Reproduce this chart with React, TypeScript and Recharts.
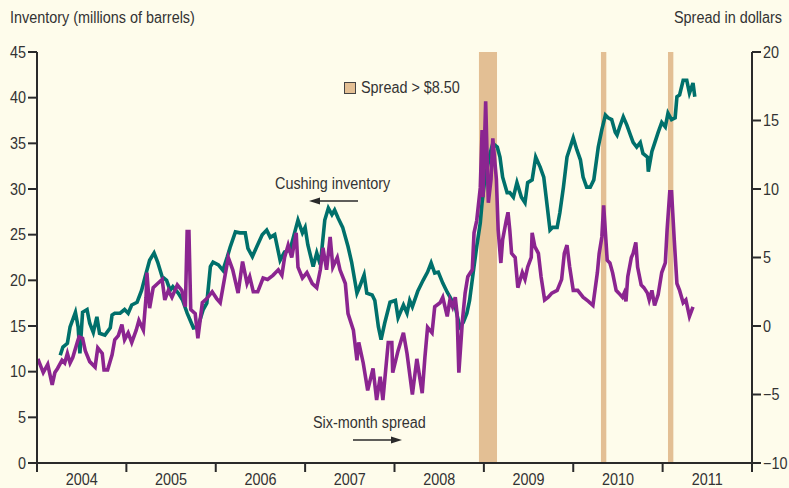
import React from 'react';
import { ComposedChart, Line, XAxis, YAxis, ReferenceArea } from 'recharts';

// ---------- data ----------
const YEAR_TICKS = [2004, 2005, 2006, 2007, 2008, 2009, 2010, 2011, 2012];
const YEAR_LABELS = ['2004', '2005', '2006', '2007', '2008', '2009', '2010', '2011'];
const INV_TICKS = [0, 5, 10, 15, 20, 25, 30, 35, 40, 45];
const SPREAD_TICKS = [-10, -5, 0, 5, 10, 15, 20];

// periods when spread > $8.50 (decimal years)
const SHADE_START = [2008.945, 2010.31, 2011.06];
const SHADE_END = [2009.147, 2010.37, 2011.12];

// Cushing inventory (millions of barrels)
const INV_DATES = [
  2004.26, 2004.29, 2004.34, 2004.37, 2004.43, 2004.46, 2004.48, 2004.51, 2004.56, 2004.59,
  2004.63, 2004.67, 2004.70, 2004.76, 2004.82, 2004.84, 2004.87, 2004.93, 2004.98, 2005.02,
  2005.06, 2005.12, 2005.17, 2005.21, 2005.26, 2005.31, 2005.35, 2005.40, 2005.45, 2005.49,
  2005.52, 2005.58, 2005.63, 2005.68, 2005.75, 2005.80, 2005.86, 2005.90, 2005.94, 2005.97,
  2006.03, 2006.08, 2006.13, 2006.16, 2006.22, 2006.27, 2006.33, 2006.36, 2006.41, 2006.46,
  2006.52, 2006.57, 2006.61, 2006.66, 2006.72, 2006.77, 2006.83, 2006.89, 2006.92, 2006.97,
  2007.00, 2007.03, 2007.09, 2007.13, 2007.17, 2007.22, 2007.26, 2007.30, 2007.33, 2007.37,
  2007.42, 2007.48, 2007.52, 2007.58, 2007.61, 2007.66, 2007.69, 2007.75, 2007.78, 2007.82,
  2007.85, 2007.89, 2007.95, 2008.01, 2008.04, 2008.10, 2008.14, 2008.17, 2008.20, 2008.26,
  2008.32, 2008.37, 2008.41, 2008.45, 2008.49, 2008.54, 2008.59, 2008.62, 2008.68, 2008.73,
  2008.77, 2008.81, 2008.84, 2008.88, 2008.92, 2008.96, 2008.98, 2009.01, 2009.07, 2009.10,
  2009.15, 2009.18, 2009.21, 2009.26, 2009.29, 2009.33, 2009.37, 2009.42, 2009.46, 2009.49,
  2009.54, 2009.58, 2009.63, 2009.67, 2009.71, 2009.74, 2009.77, 2009.82, 2009.85, 2009.89,
  2009.93, 2010.00, 2010.04, 2010.08, 2010.11, 2010.15, 2010.19, 2010.23, 2010.28, 2010.32,
  2010.36, 2010.39, 2010.43, 2010.47, 2010.49, 2010.52, 2010.56, 2010.60, 2010.64, 2010.67,
  2010.71, 2010.75, 2010.78, 2010.83, 2010.84, 2010.88, 2010.91, 2010.95, 2010.99, 2011.03,
  2011.06, 2011.10, 2011.14, 2011.16, 2011.19, 2011.23, 2011.27, 2011.30, 2011.34, 2011.36,
];
const INV_VALUES = [
  11.8, 12.7, 13.1, 14.9, 16.5, 14.9, 12.0, 16.5, 16.8, 15.3,
  14.3, 16.0, 14.2, 14.0, 14.8, 16.2, 16.4, 16.4, 16.8, 16.4,
  17.3, 17.6, 18.9, 20.4, 22.2, 23.0, 22.0, 20.4, 20.0, 18.9,
  19.3, 18.6, 17.8, 16.4, 14.8, 14.9, 16.8, 17.5, 21.5, 22.0,
  21.7, 21.1, 22.6, 23.6, 25.3, 25.2, 25.2, 23.5, 22.6, 23.7,
  25.0, 25.5, 24.7, 25.0, 22.2, 23.1, 23.3, 25.5, 26.6, 25.2,
  25.8, 23.9, 21.5, 23.0, 21.7, 26.6, 27.9, 27.2, 27.7, 26.8,
  25.8, 23.7, 22.0, 18.6, 19.3, 20.6, 18.6, 18.4, 17.8, 14.9,
  13.5, 15.3, 17.6, 17.8, 15.9, 17.3, 16.4, 17.8, 17.1, 18.8,
  20.0, 20.9, 21.9, 20.8, 20.9, 19.7, 18.7, 18.2, 17.1, 14.9,
  15.4, 16.4, 17.8, 20.8, 23.7, 26.3, 28.5, 31.0, 33.9, 35.0,
  34.6, 33.5, 31.3, 29.6, 29.6, 29.1, 30.7, 29.1, 28.5, 30.7,
  31.0, 33.5, 32.4, 31.3, 28.0, 25.5, 25.8, 25.8, 27.4, 30.2,
  33.5, 35.6, 34.3, 33.2, 31.3, 30.2, 30.2, 31.0, 34.6, 36.5,
  38.1, 37.8, 37.6, 36.2, 35.9, 36.8, 37.9, 37.0, 35.9, 35.1,
  34.6, 35.1, 33.9, 33.5, 31.9, 34.1, 35.0, 36.2, 37.3, 36.8,
  38.3, 37.6, 37.8, 40.1, 40.3, 41.9, 41.9, 40.5, 41.6, 40.1,
];

// Six-month spread (dollars)
const SPREAD_DATES = [
  2004.01, 2004.07, 2004.12, 2004.17, 2004.20, 2004.23, 2004.28, 2004.31, 2004.34, 2004.37,
  2004.40, 2004.45, 2004.47, 2004.51, 2004.54, 2004.59, 2004.65, 2004.68, 2004.73, 2004.75,
  2004.79, 2004.84, 2004.87, 2004.91, 2004.95, 2004.98, 2005.02, 2005.06, 2005.11, 2005.14,
  2005.19, 2005.22, 2005.23, 2005.26, 2005.30, 2005.35, 2005.40, 2005.43, 2005.47, 2005.51,
  2005.57, 2005.62, 2005.66, 2005.68, 2005.70, 2005.72, 2005.77, 2005.80, 2005.85, 2005.90,
  2005.96, 2006.01, 2006.05, 2006.08, 2006.14, 2006.19, 2006.25, 2006.30, 2006.35, 2006.38,
  2006.42, 2006.47, 2006.53, 2006.58, 2006.64, 2006.70, 2006.74, 2006.77, 2006.81, 2006.85,
  2006.90, 2006.92, 2006.97, 2007.02, 2007.08, 2007.13, 2007.17, 2007.20, 2007.24, 2007.28,
  2007.31, 2007.36, 2007.39, 2007.45, 2007.48, 2007.54, 2007.58, 2007.60, 2007.65, 2007.70,
  2007.76, 2007.80, 2007.84, 2007.87, 2007.93, 2007.97, 2007.98, 2008.04, 2008.10, 2008.14,
  2008.20, 2008.25, 2008.31, 2008.34, 2008.37, 2008.42, 2008.45, 2008.51, 2008.54, 2008.59,
  2008.62, 2008.65, 2008.68, 2008.70, 2008.72, 2008.76, 2008.79, 2008.82, 2008.87, 2008.89,
  2008.92, 2008.96, 2008.98, 2008.99, 2009.02, 2009.05, 2009.08, 2009.10, 2009.14, 2009.16,
  2009.19, 2009.21, 2009.25, 2009.27, 2009.29, 2009.31, 2009.35, 2009.38, 2009.43, 2009.46,
  2009.49, 2009.53, 2009.54, 2009.57, 2009.61, 2009.64, 2009.68, 2009.72, 2009.76, 2009.82,
  2009.87, 2009.90, 2009.93, 2009.96, 2010.00, 2010.05, 2010.11, 2010.17, 2010.22, 2010.27,
  2010.29, 2010.32, 2010.34, 2010.38, 2010.41, 2010.44, 2010.48, 2010.51, 2010.55, 2010.57,
  2010.59, 2010.61, 2010.65, 2010.67, 2010.70, 2010.72, 2010.76, 2010.79, 2010.83, 2010.85,
  2010.88, 2010.91, 2010.95, 2010.99, 2011.03, 2011.05, 2011.08, 2011.10, 2011.13, 2011.16,
  2011.19, 2011.23, 2011.26, 2011.30, 2011.34,
];
const SPREAD_VALUES = [
  -2.4, -3.4, -2.8, -4.3, -3.4, -3.1, -2.5, -2.7, -2.0, -2.7,
  -2.3, -1.2, -0.8, -0.9, -1.8, -2.6, -3.0, -1.6, -2.0, -3.2,
  -3.2, -2.1, -1.0, -0.7, 0.1, -1.0, -0.5, -1.2, -0.3, 0.4,
  -0.3, 2.1, 3.9, 1.3, 2.8, 3.1, 3.4, 1.9, 2.6, 2.1,
  3.0, 2.6, 1.4, 6.9, 6.9, 1.2, 0.9, -0.9, 1.7, 2.0,
  2.5, 2.0, 1.7, 2.8, 5.0, 4.1, 2.4, 4.7, 3.1, 3.6,
  2.5, 2.5, 3.5, 3.4, 3.7, 4.1, 3.7, 5.0, 5.9, 5.0,
  6.8, 4.3, 3.5, 3.9, 3.1, 2.8, 4.1, 5.7, 4.1, 6.5,
  4.3, 5.0, 4.1, 3.1, 0.9, -0.3, -2.5, -1.2, -2.7, -4.7,
  -3.1, -5.4, -3.7, -5.4, -1.2, -1.2, -3.4, -1.8, -0.5, -2.0,
  -5.0, -2.4, -4.9, -2.3, -0.1, -0.5, 1.4, 1.7, 2.1, 0.7,
  1.9, 1.4, 2.1, 0.9, -3.4, 0.4, 2.4, 3.6, 4.1, 6.8,
  7.7, 10.1, 14.3, 9.4, 16.4, 9.0, 10.7, 13.7, 10.7, 7.0,
  4.6, 6.3, 7.7, 8.3, 7.0, 5.3, 5.0, 2.8, 3.9, 3.4,
  4.3, 5.0, 6.8, 5.8, 5.3, 3.6, 1.9, 2.1, 2.4, 2.6,
  3.4, 5.3, 5.9, 4.3, 2.6, 2.6, 2.1, 1.8, 1.5, 3.9,
  5.3, 6.5, 8.8, 4.8, 4.6, 3.9, 2.6, 2.4, 2.1, 2.4,
  1.8, 3.6, 5.0, 5.3, 6.1, 4.3, 3.0, 2.8, 2.4, 1.9,
  2.6, 1.5, 2.3, 3.9, 4.6, 7.0, 9.8, 9.8, 6.3, 3.1,
  2.6, 1.7, 1.9, 0.7, 1.4,
];

// ---------- layout / style ----------
const W = 789;
const H = 488;
const M_TOP = 52;
const AXIS_W = 37;
const X_AXIS_H = 25;
const PLOT_W = W - AXIS_W * 2;
const HALF_YEAR_PX = PLOT_W / (YEAR_TICKS.length - 1) / 2;

const BG = '#FEFCEB';
const INK = '#2a2a2a';
const TEXT = '#333333';
const GREEN = '#00706B';
const PURPLE = '#8B2590';
const SHADE = '#E3BF94';
const FONT = "'Liberation Sans', Arial, sans-serif";
const FS = 16;
const SQUEEZE = 0.9;

const invData = INV_DATES.map((t, i) => ({ t, v: INV_VALUES[i] }));
const spreadData = SPREAD_DATES.map((t, i) => ({ t, s: SPREAD_VALUES[i] }));

const minus = (v: number) => String(v).replace('-', '\u2212');

const NarrowText = ({ x, y, anchor, dy, children }: any) => (
  <text
    x={x}
    y={y}
    dy={dy}
    textAnchor={anchor}
    fill={TEXT}
    fontSize={FS}
    fontFamily={FONT}
    transform={`translate(${x} 0) scale(${SQUEEZE} 1) translate(${-x} 0)`}
  >
    {children}
  </text>
);

const XTick = (props: any) => {
  const { x, y, payload } = props;
  const i = YEAR_TICKS.indexOf(payload.value);
  if (i < 0 || i >= YEAR_LABELS.length) return null;
  return (
    <NarrowText x={x + HALF_YEAR_PX} y={y} dy="0.71em" anchor="middle">
      {YEAR_LABELS[i]}
    </NarrowText>
  );
};

const YTick = (props: any) => {
  const { x, y, payload, textAnchor } = props;
  return (
    <NarrowText x={x} y={y} dy="0.355em" anchor={textAnchor}>
      {minus(payload.value)}
    </NarrowText>
  );
};

const narrowDiv = (origin: string): React.CSSProperties => ({
  position: 'absolute',
  fontSize: FS,
  lineHeight: '20px',
  whiteSpace: 'nowrap',
  transform: `scaleX(${SQUEEZE})`,
  transformOrigin: origin,
});

export default function App() {
  return (
    <div style={{ position: 'absolute', left: 0, top: 0, width: W, height: H, background: BG, fontFamily: FONT, color: TEXT }}>
      <ComposedChart
        width={W}
        height={H}
        margin={{ top: M_TOP, right: 0, bottom: 0, left: 0 }}
        style={{ fontFamily: FONT }}
      >
        <XAxis
          dataKey="t"
          type="number"
          domain={[2004, 2012]}
          ticks={YEAR_TICKS}
          allowDataOverflow
          height={X_AXIS_H}
          tickSize={9}
          tickMargin={2}
          tick={<XTick />}
          axisLine={{ stroke: INK, strokeWidth: 2 }}
          tickLine={{ stroke: INK, strokeWidth: 2 }}
        />
        <YAxis
          yAxisId="inv"
          orientation="left"
          domain={[0, 45]}
          ticks={INV_TICKS}
          width={AXIS_W}
          tickSize={9}
          tickMargin={2}
          interval={0}
          tick={<YTick />}
          axisLine={{ stroke: INK, strokeWidth: 2 }}
          tickLine={{ stroke: INK, strokeWidth: 2 }}
        />
        <YAxis
          yAxisId="spr"
          orientation="right"
          domain={[-10, 20]}
          ticks={SPREAD_TICKS}
          width={AXIS_W}
          tickSize={9}
          tickMargin={2}
          interval={0}
          tick={<YTick />}
          axisLine={{ stroke: INK, strokeWidth: 2 }}
          tickLine={{ stroke: INK, strokeWidth: 2 }}
        />
        {SHADE_START.map((s, i) => (
          <ReferenceArea
            key={i}
            yAxisId="inv"
            x1={s}
            x2={SHADE_END[i]}
            y1={0}
            y2={45}
            fill={SHADE}
            fillOpacity={1}
            stroke="none"
            ifOverflow="hidden"
          />
        ))}
        <Line
          yAxisId="inv"
          data={invData}
          dataKey="v"
          type="linear"
          stroke={GREEN}
          strokeWidth={3.6}
          dot={false}
          activeDot={false}
          isAnimationActive={false}
        />
        <Line
          yAxisId="spr"
          data={spreadData}
          dataKey="s"
          type="linear"
          stroke={PURPLE}
          strokeWidth={3.6}
          dot={false}
          activeDot={false}
          isAnimationActive={false}
        />
      </ComposedChart>

      {/* axis titles */}
      <div style={{ ...narrowDiv('left center'), left: 10, top: 8 }}>Inventory (millions of barrels)</div>
      <div style={{ ...narrowDiv('right center'), right: 7, top: 8 }}>Spread in dollars</div>

      {/* legend */}
      <div style={{ position: 'absolute', left: 344, top: 82, width: 10, height: 10, background: SHADE, border: '1px solid #444' }} />
      <div style={{ ...narrowDiv('left center'), left: 361, top: 78 }}>Spread &gt; $8.50</div>

      {/* annotations */}
      <div style={{ ...narrowDiv('left center'), left: 275, top: 174 }}>Cushing inventory</div>
      <div style={{ ...narrowDiv('left center'), left: 313, top: 413 }}>Six-month spread</div>
      <svg width={W} height={H} style={{ position: 'absolute', left: 0, top: 0, pointerEvents: 'none' }}>
        <line x1={358} y1={201} x2={318} y2={201} stroke={INK} strokeWidth={1.5} />
        <polygon points="309,201 320,197.5 320,204.5" fill={INK} />
        <line x1={353} y1={440} x2={393} y2={440} stroke={INK} strokeWidth={1.5} />
        <polygon points="402,440 391,436.5 391,443.5" fill={INK} />
      </svg>
    </div>
  );
}
